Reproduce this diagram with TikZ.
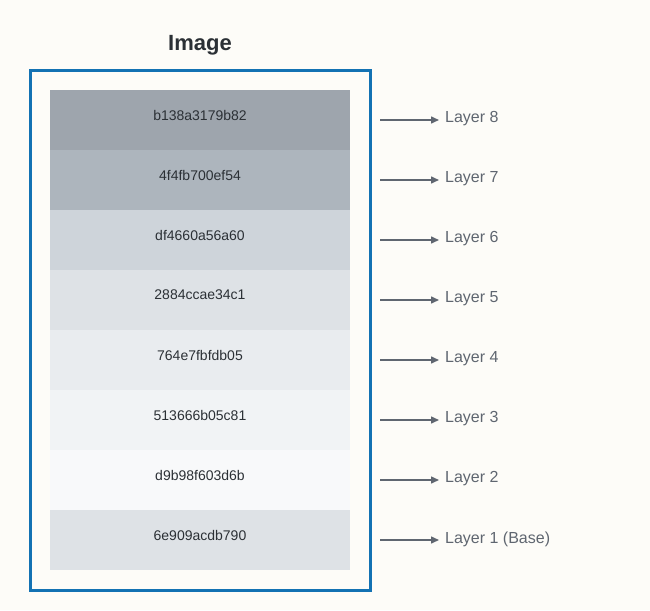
\documentclass[tikz,border=0pt]{standalone}
\usepackage{fontspec}
\setmainfont{Liberation Sans}
\usetikzlibrary{arrows.meta,positioning}

\definecolor{paper}{HTML}{FDFCF8}
\definecolor{frameblue}{HTML}{1372B3}
\definecolor{hashink}{HTML}{2B3035}
\definecolor{tagink}{HTML}{5F6670}
\definecolor{lay8}{HTML}{9EA5AD}
\definecolor{lay7}{HTML}{ADB5BD}
\definecolor{lay6}{HTML}{CED4DA}
\definecolor{lay5}{HTML}{DEE2E6}
\definecolor{lay4}{HTML}{E9ECEF}
\definecolor{lay3}{HTML}{F1F3F5}
\definecolor{lay2}{HTML}{F8F9FA}
\definecolor{lay1}{HTML}{DEE2E6}

\begin{document}
\begin{tikzpicture}[x=1pt,y=-1pt,
  title/.style={font=\fontsize{22}{26}\selectfont\bfseries, text=hashink},
  imgframe/.style={draw=frameblue, line width=3pt, minimum width=340pt, minimum height=520pt, inner sep=0pt},
  layerbox/.style={fill=#1, minimum width=300pt, minimum height=60pt, inner sep=0pt, anchor=north},
  hashtext/.style={font=\fontsize{14}{16}\selectfont, text=hashink},
  layertag/.style={font=\fontsize{16}{18}\selectfont, text=tagink, anchor=west, inner sep=0pt},
  pointer/.style={-{Triangle[length=8pt,width=7pt]}, draw=tagink, line width=1.5pt}]
  \useasboundingbox (0,0) rectangle (650,610);
  \fill[paper] (0,0) rectangle (650,610);

  \node[title]    (title) at (200,45)  {Image};
  \node[imgframe] (frame) at (200,330) {};

  % layers, top to bottom
  \foreach \n/\hash/\tag [count=\i from 0] in {8/b138a3179b82/Layer 8,
      7/4f4fb700ef54/Layer 7, 6/df4660a56a60/Layer 6, 5/2884ccae34c1/Layer 5,
      4/764e7fbfdb05/Layer 4, 3/513666b05c81/Layer 3, 2/d9b98f603d6b/Layer 2,
      1/6e909acdb790/Layer 1 (Base)} {
    \node[layerbox=lay\n] (L\n) at (200,90+60*\i) {};
    \node[hashtext] (H\n) at (200,115+60*\i) {\hash};
    \coordinate (S\n) at (380,120+60*\i);
    \node[layertag] (T\n) at (445,119+60*\i) {\tag};
    \draw[pointer] (S\n) -- ([xshift=-6pt]T\n.west |- S\n);
  }
\end{tikzpicture}
\end{document}
